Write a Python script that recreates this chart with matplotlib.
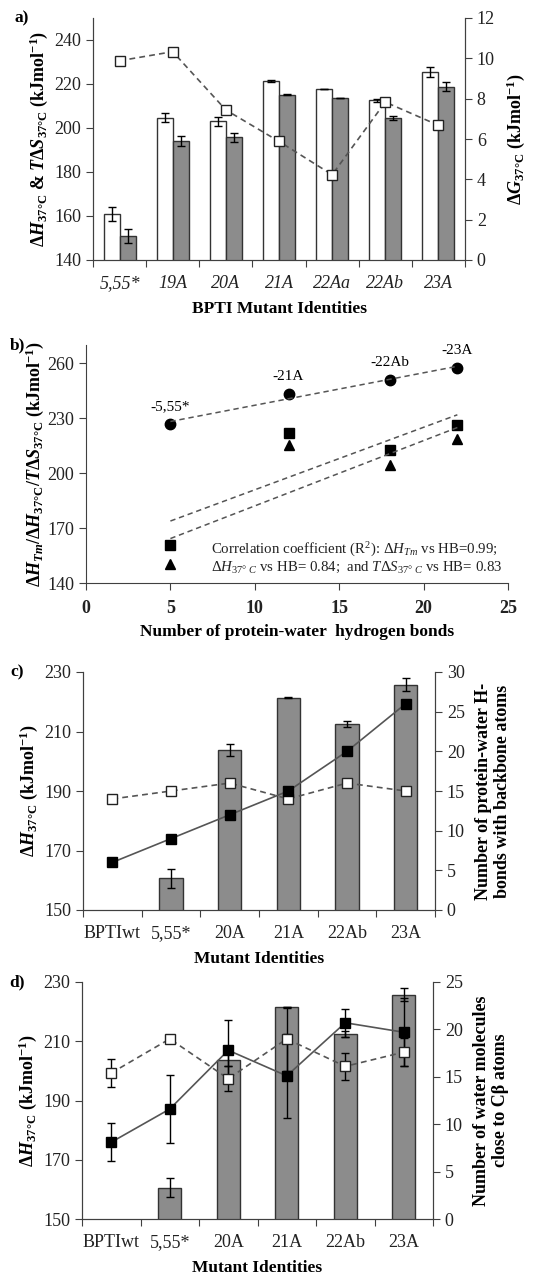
import numpy as np
import matplotlib
matplotlib.use('Agg')
import matplotlib.pyplot as plt

plt.rcParams['font.family'] = ['Liberation Serif', 'DejaVu Serif']
plt.rcParams['mathtext.fontset'] = 'custom'
plt.rcParams['mathtext.rm'] = 'Liberation Serif'
plt.rcParams['mathtext.it'] = 'Liberation Serif:italic'
plt.rcParams['mathtext.bf'] = 'Liberation Serif:bold'
plt.rcParams['mathtext.bfit'] = 'Liberation Serif:italic:bold'
plt.rcParams['axes.edgecolor'] = '#404040'
plt.rcParams['xtick.color'] = '#404040'
plt.rcParams['ytick.color'] = '#404040'
plt.rcParams['xtick.labelcolor'] = '#222222'
plt.rcParams['ytick.labelcolor'] = '#222222'

# a) BPTI mutants
a_labels = ['5,55*', '19A', '20A', '21A', '22Aa', '22Ab', '23A']
a_dH = [160.8, 204.7, 203.0, 221.4, 217.7, 212.6, 225.6]
a_dH_err = [3.2, 2.0, 2.1, 0.3, 0.0, 0.8, 2.3]
a_TdS = [150.8, 194.1, 195.8, 215.2, 213.5, 204.5, 218.8]
a_TdS_err = [3.2, 2.4, 2.0, 0.3, 0.0, 1.0, 2.1]
a_dG = [9.88, 10.33, 7.44, 5.88, 4.23, 7.83, 6.68]

# b) vs number of protein-water hydrogen bonds
b_hb = [5, 12, 18, 22]
b_names = ['-5,55*', '-21A', '-22Ab', '-23A']
b_dH_Tm = [226.8, 243.2, 250.9, 257.6]
b_dH37 = [161.0, 221.8, 212.7, 226.2]
b_TdS37 = [150.4, 215.3, 204.5, 218.9]

# c) and d)
cd_labels = ['BPTIwt', '5,55*', '20A', '21A', '22Ab', '23A']
cd_dH = [np.nan, 160.6, 203.7, 221.4, 212.4, 225.7]
cd_dH_err = [0, 3.2, 2.0, 0.2, 1.0, 2.2]
c_hb_black = [6, 9, 12, 15, 20, 26]
c_hb_white = [14, 15, 16, 14, 16, 15]
d_w_black = [8.1, 11.6, 17.8, 15.1, 20.7, 19.7]
d_w_black_err = [2.0, 3.6, 3.2, 4.4, 1.5, 3.6]
d_w_white = [15.4, 19.0, 14.8, 19.0, 16.1, 17.6]
d_w_white_err = [1.5, 0.0, 1.3, 3.4, 1.4, 1.5]

W, H = 543, 1274
fig = plt.figure(figsize=(W / 100, H / 100), dpi=100)

def box(l, t, r, b):
    return [l / W, 1 - b / H, (r - l) / W, (b - t) / H]

grey = '#8c8c8c'
dash = (0, (3.5, 2.5))
tick_fs = 13
lab_fs = 12.5
ylab_fs = 13

def cat_axis(ax, labels, italic=False):
    n = len(labels)
    ax.set_xlim(-0.5, n - 0.5)
    ax.set_xticks(np.arange(-0.5, n, 1))
    ax.set_xticklabels([])
    ax.set_xticks(np.arange(n), minor=True)
    ax.set_xticklabels(labels, minor=True, fontsize=tick_fs,
                       style='italic' if italic else 'normal')
    ax.tick_params(axis='x', which='minor', length=0, pad=11)
    ax.tick_params(axis='x', which='major', length=5, direction='out')
    ax.spines['top'].set_visible(False)

# ---- a)
ax = fig.add_axes(box(93, 18, 465, 260))
x = np.arange(len(a_labels))
ek = dict(elinewidth=1, capthick=1, ecolor='black')
ax.bar(x - 0.15, a_dH, 0.3, yerr=a_dH_err, color='white', edgecolor='#333333',
       linewidth=1, capsize=3, error_kw=ek)
ax.bar(x + 0.15, a_TdS, 0.3, yerr=a_TdS_err, color=grey, edgecolor='#333333',
       linewidth=1, capsize=3, error_kw=ek)
ax.set_ylim(140, 250)
ax.set_yticks(np.arange(140, 241, 20))
ax.tick_params(axis='y', labelsize=tick_fs, length=5)
cat_axis(ax, a_labels, italic=True)
ax.set_xlabel('BPTI Mutant Identities', fontsize=lab_fs, fontweight='bold', labelpad=6)
ax.set_ylabel(r'Δ$\mathbfit{H}_{\mathbf{37°C}}$ & $\mathbfit{T}$Δ$\mathbfit{S}_{\mathbf{37°C}}$ (kJmol$^{\mathbf{-1}}$)',
              fontsize=ylab_fs, fontweight='bold', labelpad=3)
ax2 = ax.twinx()
ax2.plot(x, a_dG, color='#555555', ls=dash, lw=1.2, marker='s', ms=7.5,
         mfc='white', mec='#222222', mew=1)
ax2.set_ylim(0, 12)
ax2.set_yticks(np.arange(0, 13, 2))
ax2.tick_params(axis='y', labelsize=tick_fs, length=5)
ax2.spines['top'].set_visible(False)
ax2.set_ylabel(r'Δ$\mathbfit{G}_{\mathbf{37°C}}$ (kJmol$^{\mathbf{-1}}$)',
               fontsize=ylab_fs, fontweight='bold', labelpad=7)
fig.text(22 / W, 1 - 18 / H, 'a)', fontsize=lab_fs, fontweight='bold', ha='center', va='center')

# ---- b)
ax = fig.add_axes(box(86, 345, 508, 583))
ax.plot(b_hb, b_dH_Tm, 'o', color='black', ms=7.5)
ax.plot(b_hb, b_dH37, 's', color='black', ms=7.5)
ax.plot(b_hb, b_TdS37, '^', color='black', ms=7.5)
xf = np.array([min(b_hb), max(b_hb)])
for ys in (b_dH_Tm, b_dH37, b_TdS37):
    k, c0 = np.polyfit(b_hb, ys, 1)
    ax.plot(xf, k * xf + c0, color='#555555', ls=dash, lw=1.1)
for xi, yi, nm in zip(b_hb, b_dH_Tm, b_names):
    ax.annotate(nm, (xi, yi), xytext=(0, 8), textcoords='offset points',
                ha='center', va='bottom', fontsize=11)
ax.text(7.4, 158, 'Correlation coefficient (R$^2$): Δ$\\mathit{H}_{\\mathit{Tm}}$ vs HB=0.99;',
        fontsize=10.7, va='center', color='#222222')
ax.text(7.4, 148.5, 'Δ$\\mathit{H}_{37°\\ C}$ vs HB= 0.84;  and $\\mathit{T}$Δ$\\mathit{S}_{37°\\ C}$ vs HB= 0.83',
        fontsize=10.7, va='center', color='#222222')
ax.set_xlim(0, 25)
ax.set_ylim(140, 270)
ax.set_yticks(np.arange(140, 261, 30))
ax.set_xticks(np.arange(0, 26, 5))
for lb in ax.get_xticklabels():
    lb.set_fontweight('bold')
ax.tick_params(axis='both', labelsize=tick_fs, length=5)
ax.tick_params(axis='x', pad=7)
ax.spines['top'].set_visible(False)
ax.spines['right'].set_visible(False)
ax.set_xlabel('Number of protein-water  hydrogen bonds', fontsize=lab_fs, fontweight='bold', labelpad=5)
ax.set_ylabel(r'Δ$\mathbfit{H}_{\mathbfit{Tm}}$/Δ$\mathbfit{H}_{\mathbf{37°C}}$/$\mathbfit{T}$Δ$\mathbfit{S}_{\mathbf{37°C}}$ (kJmol$^{\mathbf{-1}}$)',
              fontsize=ylab_fs, fontweight='bold', labelpad=1)
fig.text(18 / W, 1 - 345 / H, 'b)', fontsize=lab_fs, fontweight='bold', ha='center', va='center')

# ---- c) and d)
def panel_cd(rect, black, white, black_err, white_err, rmax, rstep, rlabel, tag, tag_y):
    ax = fig.add_axes(rect)
    xc = np.arange(len(cd_labels))
    ax.bar(xc, cd_dH, 0.4, yerr=cd_dH_err, color=grey, edgecolor='#333333',
           linewidth=1, capsize=3, error_kw=ek)
    ax.set_ylim(150, 230)
    ax.set_yticks(np.arange(150, 231, 20))
    ax.tick_params(axis='y', labelsize=tick_fs, length=5)
    cat_axis(ax, cd_labels)
    ax.set_xlabel('Mutant Identities', fontsize=lab_fs, fontweight='bold', labelpad=6)
    ax.set_ylabel(r'Δ$\mathbfit{H}_{\mathbf{37°C}}$ (kJmol$^{\mathbf{-1}}$)',
                  fontsize=ylab_fs, fontweight='bold', labelpad=3)
    ax2 = ax.twinx()
    ax2.errorbar(xc, white, yerr=white_err, color='#555555', ls=dash, lw=1.2,
                 marker='s', ms=7.5, mfc='white', mec='#222222', mew=1,
                 ecolor='black', elinewidth=1, capsize=3, capthick=1)
    ax2.errorbar(xc, black, yerr=black_err, color='#555555', ls='-', lw=1.2,
                 marker='s', ms=7.5, mfc='black', mec='black',
                 ecolor='black', elinewidth=1, capsize=3, capthick=1)
    ax2.set_ylim(0, rmax)
    ax2.set_yticks(np.arange(0, rmax + 1, rstep))
    ax2.tick_params(axis='y', labelsize=tick_fs, length=5)
    ax2.spines['top'].set_visible(False)
    ax2.set_ylabel(rlabel, fontsize=ylab_fs, fontweight='bold', labelpad=7)
    fig.text(17 / W, 1 - tag_y / H, tag, fontsize=lab_fs, fontweight='bold', ha='center', va='center')

panel_cd(box(83, 672, 435, 910), c_hb_black, c_hb_white, None, None, 30, 5,
         'Number of protein-water H-\nbonds with backbone atoms', 'c)', 672)
panel_cd(box(82, 982, 433, 1219), d_w_black, d_w_white, d_w_black_err, d_w_white_err, 25, 5,
         'Number of water molecules\nclose to Cβ atoms', 'd)', 982)

fig.savefig('out.png', dpi=100)
